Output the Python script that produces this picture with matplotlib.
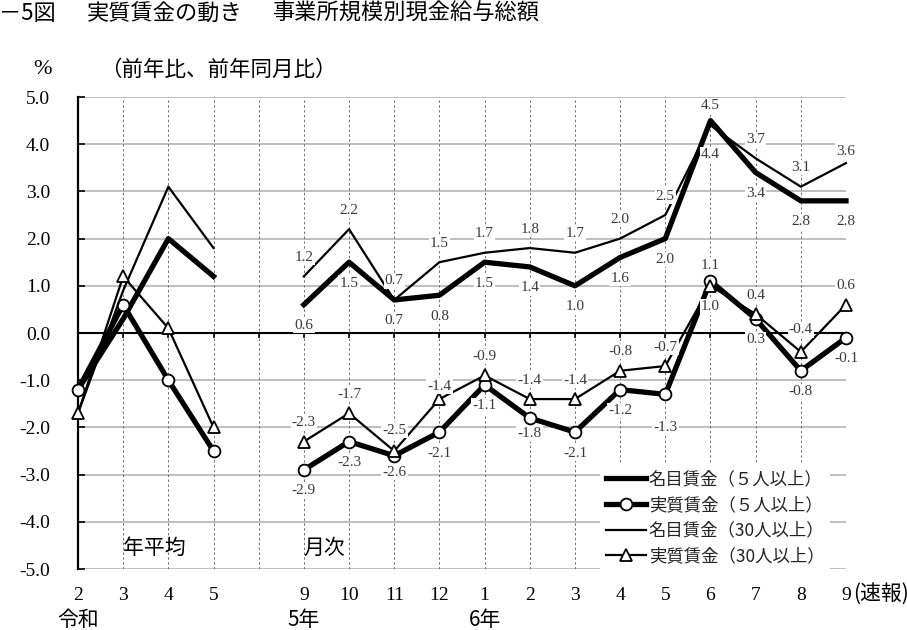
import matplotlib
matplotlib.use('Agg')
import matplotlib.pyplot as plt
import numpy as np
from matplotlib.transforms import blended_transform_factory
from matplotlib.font_manager import FontProperties

JP = ['Noto Sans CJK JP', 'DejaVu Sans']
SERIF = ['Liberation Serif', 'DejaVu Serif']

# ---------------- data ----------------
title_prefix = "－5図"
title_main = "実質賃金の動き"
title_sub = "事業所規模別現金給与総額"
y_unit = "%"
y_note = "（前年比、前年同月比）"
annual_caption = "年平均"
monthly_caption = "月次"
prelim_note = "(速報)"

annual_labels = ['2', '3', '4', '5']
month_labels = ['9', '10', '11', '12', '1', '2', '3', '4', '5', '6', '7', '8', '9']
era_annual = '令和'
era_months = {0: '5年', 4: '6年'}

series_names = ['名目賃金（５人以上）', '実質賃金（５人以上）',
                '名目賃金（30人以上）', '実質賃金（30人以上）']

nominal5_annual = [-1.2, 0.3, 2.0, 1.2]
real5_annual = [-1.2, 0.6, -1.0, -2.5]
nominal30_annual = [-1.7, 0.9, 3.1, 1.8]
real30_annual = [-1.7, 1.2, 0.1, -2.0]

nominal5_monthly = [0.6, 1.5, 0.7, 0.8, 1.5, 1.4, 1.0, 1.6, 2.0, 4.5, 3.4, 2.8, 2.8]
real5_monthly = [-2.9, -2.3, -2.6, -2.1, -1.1, -1.8, -2.1, -1.2, -1.3, 1.1, 0.3, -0.8, -0.1]
nominal30_monthly = [1.2, 2.2, 0.7, 1.5, 1.7, 1.8, 1.7, 2.0, 2.5, 4.4, 3.7, 3.1, 3.6]
real30_monthly = [-2.3, -1.7, -2.5, -1.4, -0.9, -1.4, -1.4, -0.8, -0.7, 1.0, 0.4, -0.4, 0.6]

# ---------------- styling ----------------
W, H, DPI = 907, 630, 100
fig = plt.figure(figsize=(W / DPI, H / DPI), dpi=DPI)
ax = fig.add_axes([78 / W, 1 - 569 / H, 768 / W, 472 / H])

n_a = len(annual_labels)
x_annual = np.arange(n_a)
x_month = n_a + 1 + np.arange(len(month_labels))
x_max = x_month[-1]

ax.set_xlim(0, x_max)
ax.set_ylim(-5, 5)

# grid
for yv in np.arange(-5, 6, 1):
    if yv != 0:
        ax.axhline(yv, color='#b4b4b4', lw=1.2, zorder=1)
for xv in np.arange(1, x_max + 1):
    ax.axvline(xv, color='#707070', lw=0.7, ls=(0, (2.5, 2.5)), zorder=1)
ax.axhline(0, color='black', lw=1.5, zorder=2)
ax.vlines(np.arange(1, x_max + 1), -0.1, 0, color='black', lw=1.2, zorder=2)

for s in ['top', 'right', 'bottom']:
    ax.spines[s].set_visible(False)
ax.spines['left'].set_linewidth(1.6)
ax.spines['left'].set_zorder(3)

ax.set_yticks(np.arange(-5, 6, 1))
ax.set_yticklabels([f"{v:.1f}" for v in np.arange(-5, 6, 1)])
ax.tick_params(axis='y', direction='in', length=5, width=1.2, pad=20,
               labelsize=14)
ax.set_xticks(np.concatenate([x_annual, x_month]))
ax.set_xticklabels(annual_labels + month_labels)
ax.tick_params(axis='x', length=0, pad=13, labelsize=14)
for lab in ax.get_xticklabels() + ax.get_yticklabels():
    lab.set_family(SERIF)

styles = [
    dict(color='black', lw=3.8, marker=None),
    dict(color='black', lw=3.8, marker='o', ms=8.5, mfc='white', mec='black', mew=1.3),
    dict(color='black', lw=1.6, marker=None),
    dict(color='black', lw=1.6, marker='^', ms=9, mfc='white', mec='black', mew=1.3),
]
annual_data = [nominal5_annual, real5_annual, nominal30_annual, real30_annual]
monthly_data = [nominal5_monthly, real5_monthly, nominal30_monthly, real30_monthly]

handles = []
for i in range(4):
    st = styles[i]
    ax.plot(x_annual, annual_data[i], clip_on=False, zorder=4 + i * 0.1, **st)
    h, = ax.plot(x_month, monthly_data[i], clip_on=False, zorder=4 + i * 0.1, **st)
    handles.append(h)

# data labels (offsets in pixels: positive = above)
default_offset = [-21, -21, 19, 19]
offset_exceptions = {
    (0, 9): 15, (2, 9): -29, (2, 12): 12,
    (1, 8): -33, (1, 5): -16, (1, 9): 16, (3, 9): -21,
    (3, 3): 13, (1, 2): -17, (3, 2): 21, (3, 11): 22,
}
px2pt = 72 / DPI
for i in range(4):
    for j, v in enumerate(monthly_data[i]):
        off = offset_exceptions.get((i, j), default_offset[i])
        ax.annotate(f"{v:.1f}", (x_month[j], v), xytext=(0, off * px2pt),
                    textcoords='offset points', ha='center', va='center',
                    fontsize=11, family=SERIF, color='#3a3a3a', zorder=8,
                    bbox=dict(boxstyle='square,pad=0.08', fc='white', ec='none'))

leg = ax.legend(handles, series_names, loc='upper left',
                bbox_to_anchor=(600 / W, 1 - 464 / H), bbox_transform=fig.transFigure,
                prop=FontProperties(family=JP, size=12.5), frameon=True,
                facecolor='white', edgecolor='none', framealpha=1, fancybox=False,
                handlelength=2.3, handletextpad=0.15, labelspacing=0.45,
                borderpad=0.35, borderaxespad=0)
leg.set_zorder(9)
for t in leg.get_texts():
    t.set_color('#222222')

# texts
fig.text(-1 / W, 1 - 13 / H, title_prefix, family=JP, fontsize=16, ha='left', va='center')
fig.text(87 / W, 1 - 13 / H, title_main, family=JP, fontsize=16, ha='left', va='center')
fig.text(273 / W, 1 - 13 / H, title_sub, family=JP, fontsize=16, ha='left', va='center')
fig.text(43 / W, 1 - 70 / H, y_unit, family=SERIF, fontsize=16, ha='center', va='center')
fig.text(100 / W, 1 - 70 / H, y_note, family=JP, fontsize=15.5, ha='left', va='center')

bt = blended_transform_factory(ax.transData, fig.transFigure)
ax.text(x_annual[1], 1 - 548 / H, annual_caption, transform=bt, family=JP,
        fontsize=15, ha='left', va='center', zorder=8)
ax.text(x_month[0], 1 - 548 / H, monthly_caption, transform=bt, family=JP,
        fontsize=15, ha='left', va='center', zorder=8)
ax.text(x_annual[0], 1 - 620 / H, era_annual, transform=bt, family=JP,
        fontsize=15, ha='center', va='center', clip_on=False)
for j, lab in era_months.items():
    ax.text(x_month[j], 1 - 620 / H, lab, transform=bt, family=JP,
            fontsize=15, ha='center', va='center', clip_on=False)
fig.text(853 / W, 1 - 594 / H, prelim_note, family=JP, fontsize=15,
         ha='left', va='center')

fig.savefig('out.png', dpi=DPI)
